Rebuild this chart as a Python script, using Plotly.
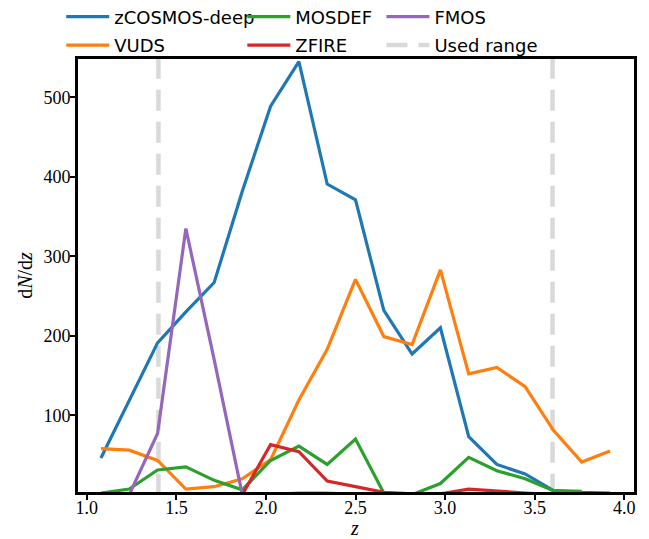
import plotly.graph_objects as go

# Redshift bin centres
z = [1.079, 1.237, 1.395, 1.553, 1.711, 1.868, 2.026, 2.184, 2.342, 2.500,
     2.658, 2.816, 2.974, 3.132, 3.289, 3.447, 3.605, 3.763, 3.921]

zcosmos_deep = [46, 119, 191, 230, 267, 382, 489, 545, 391, 371,
                232, 177, 210, 73, 38, 26, 5, 3, 2]
vuds = [58, 56, 43, 7, 10, 20, 44, 119, 183, 271,
        199, 189, 283, 152, 160, 136, 81, 41, 55]
mosdef = [2, 7, 31, 35, 18, 6, 43, 61, 38, 70,
          2, 0, 14, 47, 30, 20, 5, 4, None]
zfire = [None, None, None, None, None, 0, 63, 54, 17, 10,
         3, 1, 1, 7, 4, 2, 0, None, None]
fmos = [None, 0, 77, 335, 170, 0, 0, 2, 2, 0,
        None, None, None, None, None, None, None, None, None]

used_range = [1.4, 3.6]
y_max = 550

xticks = [1.0, 1.5, 2.0, 2.5, 3.0, 3.5, 4.0]
xticklabels = ["1.0", "1.5", "2.0", "2.5", "3.0", "3.5", "4.0"]
yticks = [100, 200, 300, 400, 500]
yticklabels = ["100", "200", "300", "400", "500"]

fig = go.Figure()

# Used range (drawn first, behind the data)
for i, xv in enumerate(used_range):
    fig.add_trace(go.Scatter(
        x=[xv, xv], y=[y_max, 0], mode="lines",
        line=dict(color="#d9d9d9", width=4.5, dash="21px,11px"),
        name="Used range", showlegend=(i == 0),
        legend="legend3", legendgroup="used", legendrank=2, hoverinfo="skip"))

series = [
    ("zCOSMOS-deep", zcosmos_deep, "#1f77b4", "legend", 1),
    ("VUDS", vuds, "#ff7f0e", "legend", 2),
    ("MOSDEF", mosdef, "#2ca02c", "legend2", 1),
    ("ZFIRE", zfire, "#d62728", "legend2", 2),
    ("FMOS", fmos, "#9467bd", "legend3", 1),
]
for name, vals, col, leg, rank in series:
    fig.add_trace(go.Scatter(
        x=z, y=vals, mode="lines", name=name,
        line=dict(color=col, width=3.2),
        connectgaps=False, legend=leg, legendgroup=name, legendrank=rank))

leg_font = dict(family="DejaVu Sans", size=18, color="black")
leg_common = dict(orientation="v", xanchor="left", yanchor="top",
                  bgcolor="rgba(0,0,0,0)", borderwidth=0, font=leg_font,
                  itemwidth=43, tracegroupgap=2, groupclick="toggleitem")

# The page body adds an 8 px margin, so the figure is 8 px smaller
# and the left/top margins are reduced accordingly.
fig.update_layout(
    width=641, height=531,
    margin=dict(l=70.2, r=15.2, t=50.8, b=47.2, autoexpand=False),
    paper_bgcolor="white", plot_bgcolor="white",
    showlegend=True,
    legend=dict(x=-0.0302, y=1.1397, **leg_common),
    legend2=dict(x=0.2955, y=1.1397, **leg_common),
    legend3=dict(x=0.5457, y=1.1397, **leg_common),
    font=dict(family="Liberation Serif", size=18, color="black"),
    annotations=[dict(text="<i>z</i>", xref="paper", yref="paper",
                      x=0.497, y=-0.083, xanchor="center", yanchor="middle",
                      showarrow=False,
                      font=dict(family="Liberation Serif", size=20, color="black"))],
)

axis_common = dict(showgrid=False, zeroline=False, showline=True, mirror=True,
                   linecolor="black", linewidth=3, ticks="outside",
                   ticklen=5, tickwidth=2, tickcolor="black",
                   tickfont=dict(family="Liberation Serif", size=18, color="black"))

fig.update_xaxes(range=[0.9508, 4.0547], tickvals=xticks, ticktext=xticklabels,
                 ticklabelstandoff=-8, **axis_common)
fig.update_yaxes(range=[3.3, 548.4], tickvals=yticks, ticktext=yticklabels,
                 ticklabelstandoff=-4,
                 title=dict(text="d<i>N</i>/d<i>z</i>", standoff=6,
                            font=dict(family="Liberation Serif", size=20)),
                 **axis_common)

fig.write_html("out.html")
